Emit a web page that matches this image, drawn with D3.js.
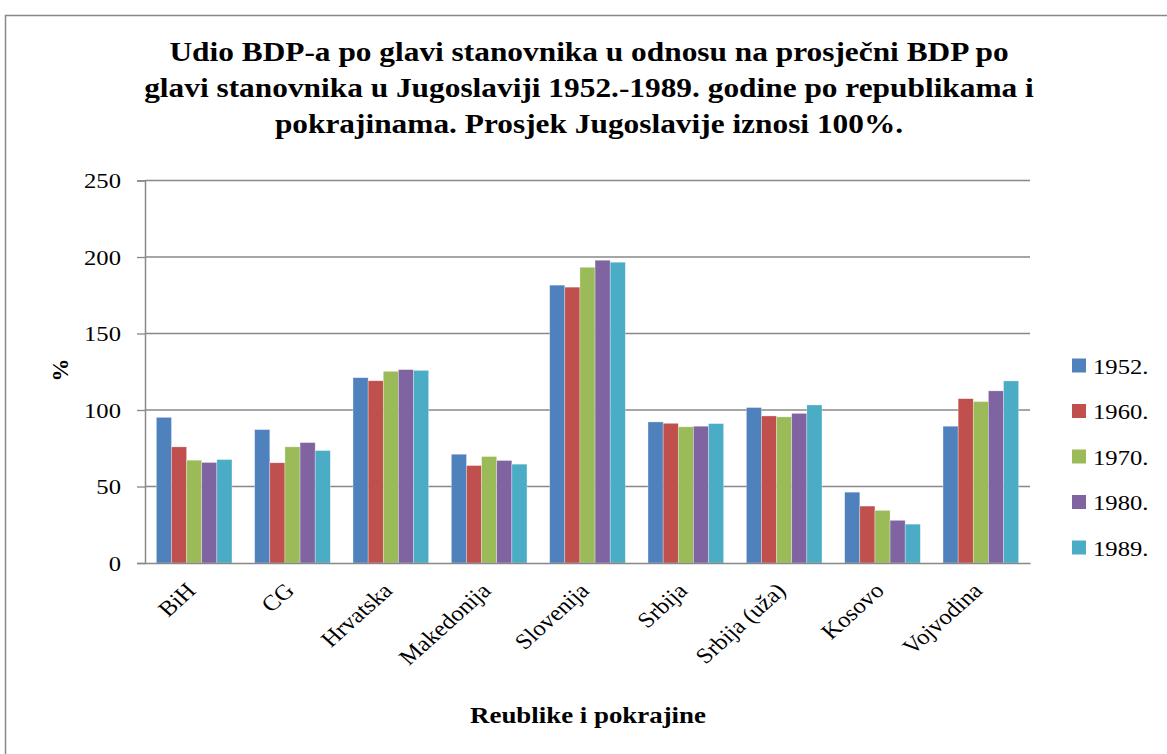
<!DOCTYPE html>
<html>
<head>
<meta charset="utf-8">
<script src="https://cdn.jsdelivr.net/npm/d3@7"></script>
<style>
  body { margin: 0; background: #fff; }
  svg { display: block; }
  svg text { font-family: "Liberation Serif", "Times New Roman", serif; fill: #000; }
</style>
</head>
<body>
<div id="chart"></div>
<script>
const regions = ["BiH", "CG", "Hrvatska", "Makedonija", "Slovenija", "Srbija", "Srbija (uža)", "Kosovo", "Vojvodina"];
const years = ["1952.", "1960.", "1970.", "1980.", "1989."];
const colors = ["#4F81BD", "#C0504D", "#9BBB59", "#8064A2", "#4BACC6"];

const v1952 = [95.2, 87.2, 121.1, 71.1, 181.6, 92.2, 101.6, 46.3, 89.4];
const v1960 = [75.9, 65.5, 119.1, 63.7, 180.3, 91.3, 96.1, 37.2, 107.4];
const v1970 = [67.2, 75.9, 125.3, 69.6, 193.3, 89.0, 95.5, 34.4, 105.5];
const v1980 = [65.7, 78.7, 126.4, 67.0, 197.9, 89.4, 97.8, 27.9, 112.5];
const v1989 = [67.6, 73.5, 125.9, 64.6, 196.6, 91.1, 103.3, 25.4, 119.0];
const series = [v1952, v1960, v1970, v1980, v1989];

const yTicks = [0, 50, 100, 150, 200, 250];
const titleLines = [
  "Udio BDP-a po glavi stanovnika u odnosu na prosječni BDP po",
  "glavi stanovnika u Jugoslaviji 1952.-1989. godine po republikama i",
  "pokrajinama. Prosjek Jugoslavije iznosi 100%."
];

const W = 1167, H = 754;
const plot = { left: 145, right: 1030, top: 180.5, bottom: 563 };
const SX = 1.12; // the source picture is a bit wider than tall, text looks stretched

const svg = d3.select("#chart").append("svg")
  .attr("width", W).attr("height", H)
  .attr("viewBox", [0, 0, W, H]);

// chart border
svg.append("rect")
  .attr("x", 5.5).attr("y", 15.5).attr("width", 1300).attr("height", 900)
  .attr("fill", "#fff").attr("stroke", "#888").attr("stroke-width", 1.5);

// title
svg.append("g").selectAll("text").data(titleLines).join("text")
  .attr("transform", (d, i) => `translate(589,${61 + i * 36}) scale(${SX},1)`)
  .attr("text-anchor", "middle")
  .attr("font-size", 28).attr("font-weight", "bold")
  .text(d => d);

const x = d3.scaleBand().domain(regions)
  .range([plot.left, plot.right])
  .paddingInner(0.231).paddingOuter(0.1155);
const xs = d3.scaleBand().domain(years).range([0, x.bandwidth()]);
const y = d3.scaleLinear().domain([0, 250]).range([plot.bottom, plot.top]);

// gridlines
svg.append("g").selectAll("line").data(yTicks.filter(d => d > 0)).join("line")
  .attr("x1", plot.left).attr("x2", plot.right)
  .attr("y1", d => y(d)).attr("y2", d => y(d))
  .attr("stroke", "#888").attr("stroke-width", 1.3);

// bars
const rows = regions.map((r, i) => ({ region: r, vals: series.map((s, k) => ({ year: years[k], k, v: s[i] })) }));
svg.append("g").selectAll("g").data(rows).join("g")
  .attr("transform", d => `translate(${x(d.region)},0)`)
  .selectAll("rect").data(d => d.vals).join("rect")
  .attr("x", d => xs(d.year)).attr("width", xs.bandwidth())
  .attr("y", d => y(d.v)).attr("height", d => y(0) - y(d.v))
  .attr("fill", d => colors[d.k])
  .attr("stroke", "#fff").attr("stroke-opacity", 0.5).attr("stroke-width", 0.6);

// y axis
const yAxis = svg.append("g").attr("transform", `translate(${plot.left},0)`)
  .call(d3.axisLeft(y).tickValues(yTicks).tickSize(8));
yAxis.attr("font-family", null).attr("font-size", null);
yAxis.select(".domain").attr("stroke", "#888").attr("stroke-width", 1.5);
yAxis.selectAll(".tick line").attr("stroke", "#888").attr("stroke-width", 1.3);
yAxis.selectAll(".tick text")
  .attr("font-size", 22).attr("x", null).attr("dy", "0.33em")
  .attr("transform", `translate(-24,0) scale(${SX},1)`);

// x axis
const xAxis = svg.append("g").attr("transform", `translate(0,${plot.bottom})`)
  .call(d3.axisBottom(x).tickSize(0).tickPadding(0));
xAxis.attr("font-family", null).attr("font-size", null);
xAxis.select(".domain").attr("stroke", "#888").attr("stroke-width", 1.5);
xAxis.selectAll(".tick text")
  .attr("font-size", 22)
  .attr("text-anchor", "end").attr("dy", 0).attr("y", 0)
  .attr("transform", `translate(3,29) scale(${SX},1) rotate(-45)`);

// axis titles
svg.append("text")
  .attr("transform", `translate(60,370) rotate(-90)`)
  .attr("text-anchor", "middle").attr("font-size", 23).attr("font-weight", "bold")
  .attr("dy", "0.35em")
  .text("%");
svg.append("text")
  .attr("transform", `translate(588,723) scale(${SX},1)`)
  .attr("text-anchor", "middle").attr("font-size", 24).attr("font-weight", "bold")
  .text("Reublike i pokrajine");

// legend
const legend = svg.append("g").selectAll("g").data(years).join("g")
  .attr("transform", (d, i) => `translate(1072,${365.5 + i * 45.5})`);
legend.append("rect").attr("x", 0).attr("y", -7).attr("width", 14).attr("height", 14)
  .attr("fill", (d, i) => colors[i]);
legend.append("text")
  .attr("transform", `translate(21,8) scale(${SX},1)`)
  .attr("font-size", 22).text(d => d);
</script>
</body>
</html>
